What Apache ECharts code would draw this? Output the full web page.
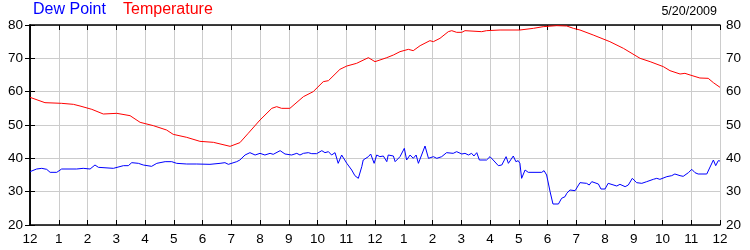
<!DOCTYPE html>
<html>
<head>
<meta charset="utf-8">
<script src="https://cdn.jsdelivr.net/npm/echarts@6/dist/echarts.min.js"></script>
<style>
html,body{margin:0;padding:0;background:#fff;}
#c{width:750px;height:250px;}
</style>
</head>
<body>
<div id="c"></div>
<script>
// Hours since midnight (x) and values
const tempHours = [0,0.52,1.10,1.51,1.74,2.15,2.55,3.02,3.48,3.83,4.29,4.75,4.98,5.45,5.91,6.38,6.96,7.30,7.59,8.00,8.41,8.58,8.75,9.04,9.51,9.85,10.20,10.38,10.78,11.02,11.36,11.77,12.00,12.41,12.64,12.87,13.16,13.33,13.57,13.91,14.03,14.26,14.55,14.67,14.84,15.02,15.13,15.71,15.88,16.35,17.04,17.51,17.85,18.32,18.67,18.90,19.13,19.59,20.17,20.64,21.22,21.57,22.03,22.26,22.61,22.78,22.96,23.30,23.59,23.77,24.00];
const tempValues = [58.3,56.7,56.5,56.2,55.7,54.7,53.3,53.5,52.8,50.8,49.8,48.5,47.2,46.3,45.1,44.8,43.6,44.7,47.5,51.5,55.0,55.5,55.0,55.0,58.5,60.0,63.0,63.3,66.7,67.7,68.5,70.2,69.0,70.2,71.0,72.0,72.7,72.3,73.8,75.3,75.0,76.0,78.0,78.3,77.8,77.8,78.3,78.0,78.3,78.5,78.5,79.0,79.5,79.8,79.7,79.0,78.5,77.0,75.0,73.0,70.0,69.0,67.5,66.3,65.3,65.5,65.0,64.1,64.0,62.7,61.3];

const dewHours = [0,0.23,0.41,0.58,0.70,0.93,1.10,1.62,1.85,2.09,2.26,2.38,2.90,3.25,3.42,3.54,3.77,3.94,4.23,4.41,4.70,4.93,5.10,5.45,5.80,6.26,6.61,6.78,6.90,7.19,7.30,7.48,7.65,7.83,8.00,8.17,8.35,8.46,8.70,8.87,9.10,9.28,9.39,9.51,9.68,9.80,9.97,10.15,10.26,10.38,10.49,10.61,10.72,10.84,11.02,11.19,11.30,11.42,11.54,11.59,11.77,11.85,11.97,12.06,12.17,12.29,12.41,12.46,12.64,12.70,12.87,13.02,13.10,13.22,13.33,13.43,13.51,13.74,13.86,14.03,14.15,14.32,14.49,14.72,14.84,15.02,15.13,15.25,15.36,15.44,15.54,15.63,15.88,16.00,16.11,16.29,16.41,16.56,16.64,16.81,16.90,16.98,17.04,17.10,17.22,17.33,17.80,17.88,17.97,18.09,18.19,18.38,18.49,18.61,18.67,18.78,18.96,19.13,19.36,19.45,19.54,19.77,19.86,20.00,20.11,20.41,20.52,20.70,20.81,20.95,21.10,21.28,21.45,21.68,21.80,21.91,22.15,22.32,22.43,22.61,22.72,22.90,23.02,23.13,23.24,23.54,23.77,23.85,23.94,24.00];
const dewValues = [36.0,36.8,37.0,36.7,35.8,35.8,36.8,36.8,37.0,36.8,38.0,37.3,37.0,37.8,37.8,38.7,38.5,38.0,37.6,38.5,39.0,39.0,38.5,38.3,38.3,38.2,38.5,38.7,38.2,39.0,39.5,41.0,41.7,41.0,41.5,41.0,41.5,41.2,42.3,41.3,41.0,41.5,41.0,41.5,41.7,41.4,41.4,42.3,41.7,42.0,41.0,41.7,38.5,41.0,38.5,36.5,34.8,34.0,37.5,39.5,40.5,41.3,38.5,41.0,40.5,40.7,39.0,41.0,40.7,39.0,40.5,43.0,39.5,41.0,40.0,41.0,38.5,43.7,40.0,40.5,40.0,40.5,41.7,41.5,42.0,41.3,41.5,41.0,41.5,40.7,41.7,39.5,39.5,40.5,39.5,37.8,38.0,40.5,38.5,40.7,39.0,39.3,38.5,34.0,36.5,35.8,35.8,36.3,35.0,30.0,26.3,26.3,28.0,28.5,29.5,30.5,30.3,32.7,32.5,32.0,33.0,32.3,30.8,30.8,32.5,31.7,32.2,31.5,32.0,34.0,32.7,32.5,33.0,33.7,34.0,33.7,34.5,34.8,35.3,34.8,34.6,35.7,36.7,35.7,35.3,35.3,39.5,37.8,39.3,39.2];

const hourTicks = [12,1,2,3,4,5,6,7,8,9,10,11,12,1,2,3,4,5,6,7,8,9,10,11,12];
const yTicks = [20,30,40,50,60,70,80];
const titleDew = 'Dew Point';
const titleTemp = 'Temperature';
const dateText = '5/20/2009';

const pair = (xs, ys) => xs.map((x, i) => [x, ys[i]]);
const FONT = '"Liberation Sans", Arial, sans-serif';

const chart = echarts.init(document.getElementById('c'), null, {renderer: 'canvas'});
const axisLine = {show: true, lineStyle: {color: '#000', width: 1.5}};
const tick = {show: true, inside: true, length: 5, lineStyle: {color: '#000', width: 1}};
chart.setOption({
  animation: false,
  backgroundColor: '#fff',
  title: [
    {text: titleDew, left: 33, top: 2, textStyle: {color: '#0000ff', fontSize: 16, fontWeight: 'normal', fontFamily: FONT}, padding: 0},
    {text: titleTemp, left: 123, top: 2, textStyle: {color: '#ff0000', fontSize: 16, fontWeight: 'normal', fontFamily: FONT}, padding: 0},
    {text: dateText, right: 33, top: 5, textStyle: {color: '#000', fontSize: 12.5, fontWeight: 'normal', fontFamily: FONT}, padding: 0}
  ],
  grid: {left: 30, right: 30, top: 25, bottom: 25, containLabel: false},
  xAxis: [
    {type: 'value', min: 0, max: 24, interval: 1, position: 'bottom',
     axisLine: axisLine, axisTick: tick,
     axisLabel: {margin: 7, color: '#000', fontSize: 13.5, fontFamily: FONT, showMinLabel: true, showMaxLabel: true,
       formatter: v => String(hourTicks[Math.round(v)])},
     splitLine: {show: true, lineStyle: {color: '#cccccc', width: 1}}},
    {type: 'value', min: 0, max: 24, interval: 1, position: 'top',
     axisLine: axisLine, axisTick: tick, axisLabel: {show: false}, splitLine: {show: false}}
  ],
  yAxis: [
    {type: 'value', min: 20, max: 80, interval: 10, position: 'left',
     axisLine: axisLine, axisTick: tick,
     axisLabel: {margin: 7, color: '#000', fontSize: 13.5, fontFamily: FONT, formatter: v => String(v)},
     splitLine: {show: true, lineStyle: {color: '#cccccc', width: 1}}},
    {type: 'value', min: 20, max: 80, interval: 10, position: 'right',
     axisLine: axisLine, axisTick: tick,
     axisLabel: {margin: 6, color: '#000', fontSize: 13.5, fontFamily: FONT, formatter: v => String(v)},
     splitLine: {show: false}}
  ],
  series: [
    {name: 'Temperature', type: 'line', data: pair(tempHours, tempValues), showSymbol: false, symbol: 'none',
     lineStyle: {color: '#ff0000', width: 1}, z: 3},
    {name: 'Dew Point', type: 'line', data: pair(dewHours, dewValues), showSymbol: false, symbol: 'none',
     lineStyle: {color: '#0000ff', width: 1}, z: 3}
  ]
});
</script>
</body>
</html>
